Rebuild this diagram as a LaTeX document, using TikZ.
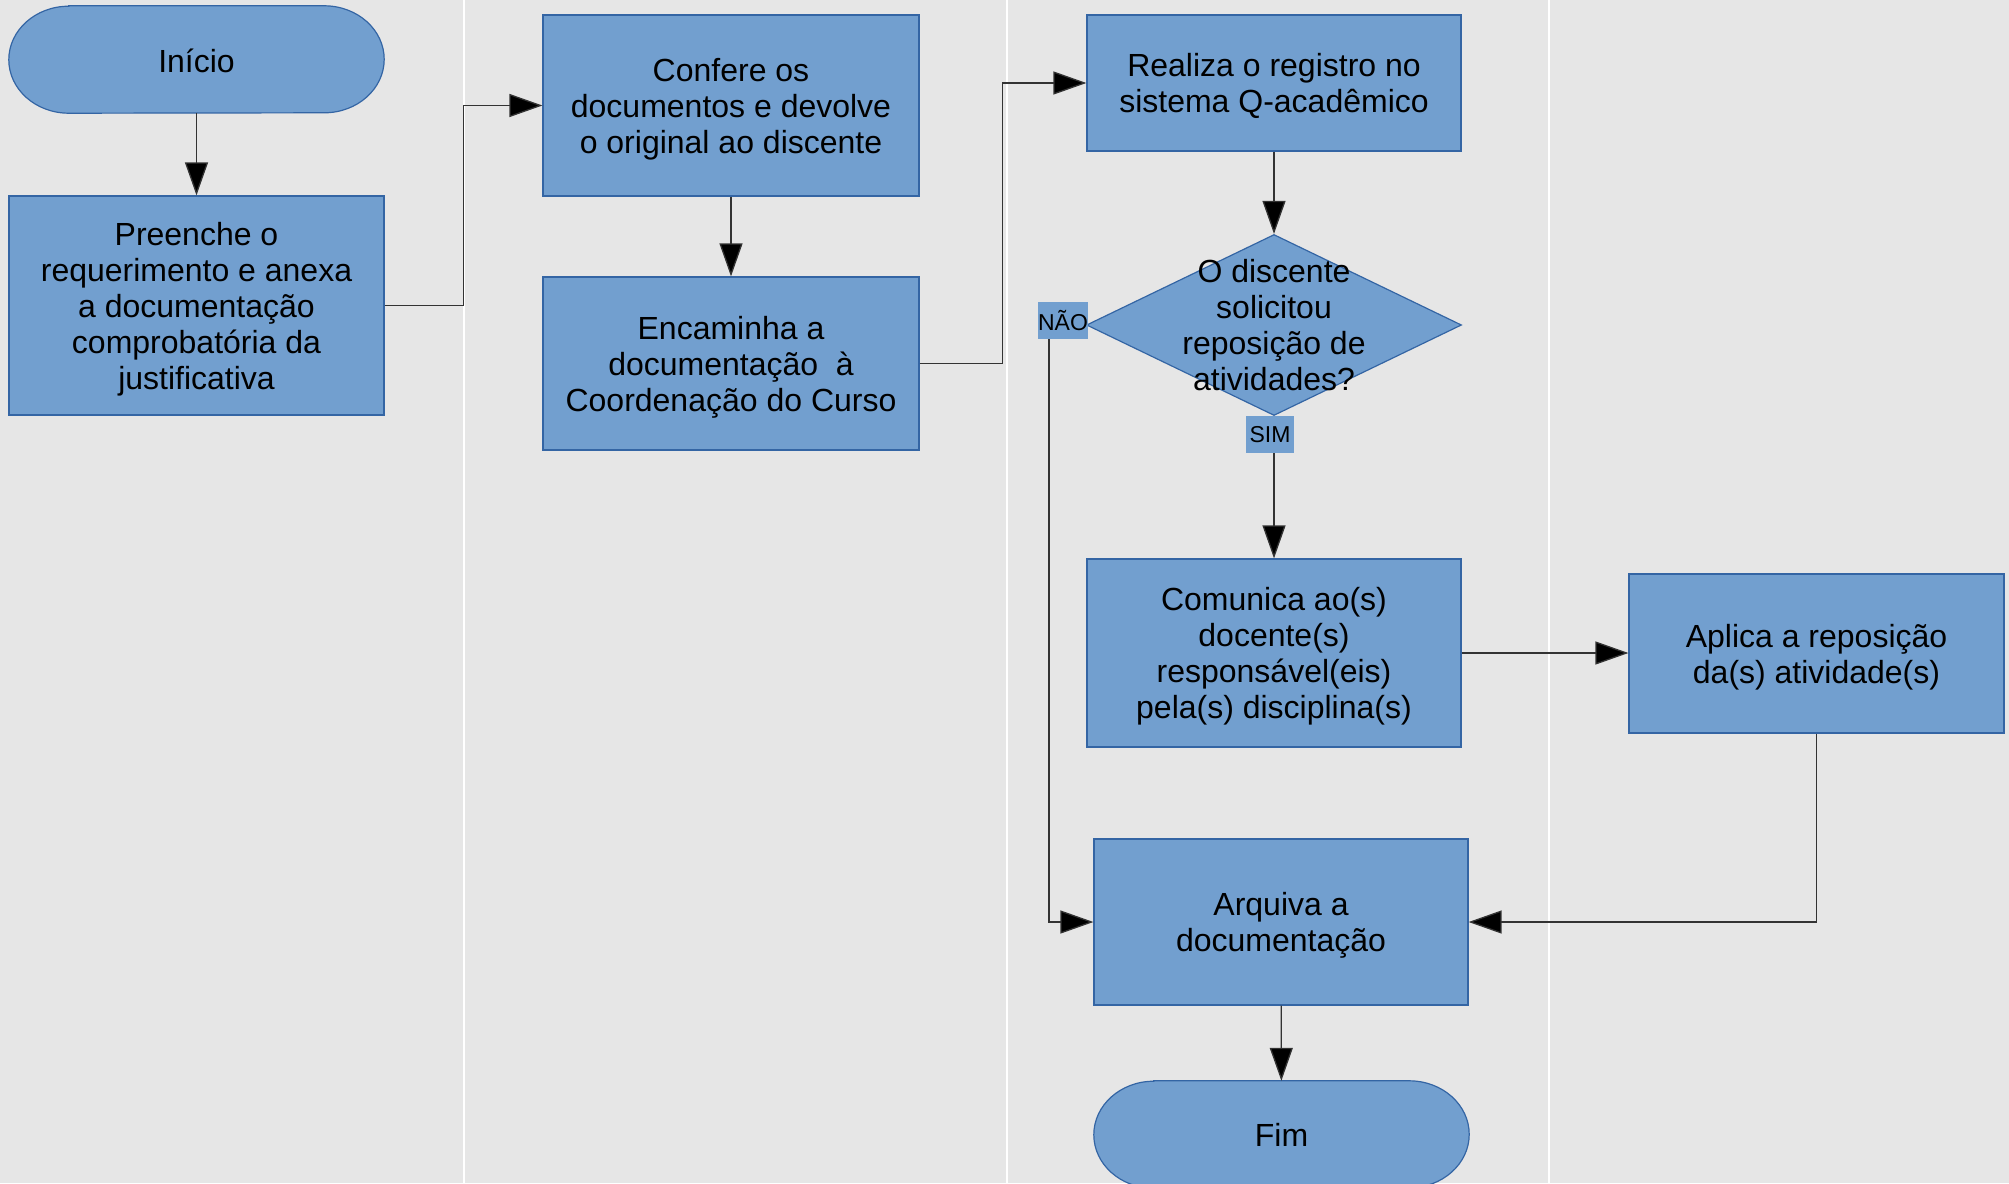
\documentclass[tikz,border=0pt]{standalone}
\usepackage{fontspec}
\setmainfont{Liberation Sans}
\usetikzlibrary{arrows.meta,shapes.geometric}
\definecolor{boxfill}{HTML}{729FCF}
\definecolor{boxline}{HTML}{3465A4}
\definecolor{bgcol}{HTML}{E6E6E6}
\newcommand{\fstrut}{\rule{0pt}{30pt}}
\tikzset{
  txt/.style={font=\fontsize{32pt}{36pt}\selectfont, align=center, text=black},
  procbox/.style={txt, draw=boxline, fill=boxfill, line width=1.2pt, inner sep=0pt},
  termnode/.style={txt, minimum width=375pt, minimum height=107pt, inner sep=0pt},
  termshape/.style={draw=boxline, fill=boxfill, line width=1.2pt},
  decbox/.style={diamond, draw=boxline, fill=boxfill, line width=1.2pt, inner sep=0pt, minimum width=375pt, minimum height=181pt},
  lab/.style={font=\fontsize{23pt}{26pt}\selectfont, fill=boxfill, inner sep=0pt, minimum width=48pt, minimum height=37pt},
  conn/.style={draw=black!80, line width=1.3pt, -{Triangle[length=33pt,width=23pt,fill=black]}},
  sep/.style={draw=white, line width=2.5pt}
}
\newcommand{\termpath}[1]{%
  \path[termshape] ([xshift=60pt]#1.north west) -- ([xshift=-60pt]#1.north east)
    arc[start angle=90,end angle=-90,x radius=60pt,y radius=53.5pt]
    -- ([xshift=60pt]#1.south west)
    arc[start angle=270,end angle=90,x radius=60pt,y radius=53.5pt] -- cycle;}
\begin{document}
\begin{tikzpicture}[x=1pt,y=-1pt]
\clip (0,0) rectangle (2009,1183);
\fill[bgcol] (0,0) rectangle (2009,1183);
\draw[sep] (464,0) -- (464,1183);
\draw[sep] (1007,0) -- (1007,1183);
\draw[sep] (1549,0) -- (1549,1183);

% terminators
\node[termnode] (ini) at (196.5,59.5) {};
\termpath{ini}
\node[txt] at ([yshift=-1pt]ini) {Início};
\node[termnode] (fim) at (1281.5,1134.5) {};
\termpath{fim}
\node[txt] at (fim) {Fim};

% process boxes
\node[procbox, minimum width=375pt, minimum height=219pt] (pre) at (196.5,305.5)
  {\fstrut Preenche o\\requerimento e anexa\\a documentação\\comprobatória da\\justificativa};
\node[procbox, minimum width=376pt, minimum height=181pt] (con) at (731,105.5)
  {\fstrut Confere os\\documentos e devolve\\o original ao discente};
\node[procbox, minimum width=376pt, minimum height=173pt] (enc) at (731,363.5)
  {\fstrut Encaminha a\\documentação \ à\\Coordenação do Curso};
\node[procbox, minimum width=374pt, minimum height=136pt] (rea) at (1274,83)
  {\fstrut Realiza o registro no\\sistema Q-acadêmico};
\node[decbox, label={[txt]center:O discente\\solicitou\\reposição de\\atividades?}] (dec) at (1274,325) {};
\node[procbox, minimum width=374pt, minimum height=188pt] (com) at (1274,653)
  {\fstrut Comunica ao(s)\\docente(s)\\responsável(eis)\\pela(s) disciplina(s)};
\node[procbox, minimum width=375pt, minimum height=159pt] (apl) at (1816.5,653.5)
  {\fstrut Aplica a reposição\\da(s) atividade(s)};
\node[procbox, minimum width=374pt, minimum height=166pt] (arq) at (1281,922)
  {\fstrut Arquiva a\\documentação};

% labels
\node[lab] (nao) at (1063,320.5) {NÃO};
\node[lab] (sim) at (1270,434.5) {SIM};

% connectors
\draw[conn] (ini) -- (pre);
\draw[conn] (pre.east) -- ++(79,0) |- (con.west);
\draw[conn] (con) -- (enc);
\draw[conn] (enc.east) -- ++(83,0) |- (rea.west);
\draw[conn] (rea) -- (dec);
\draw[conn] (sim.south -| dec.south) -- (com.north);
\draw[conn] (com.east) -- (apl.west |- com.east);
\draw[conn] (apl.south) |- (arq.east);
\draw[conn] ([xshift=-14pt]nao.south) |- (arq.west);
\draw[conn] (arq) -- (fim);
\end{tikzpicture}
\end{document}
